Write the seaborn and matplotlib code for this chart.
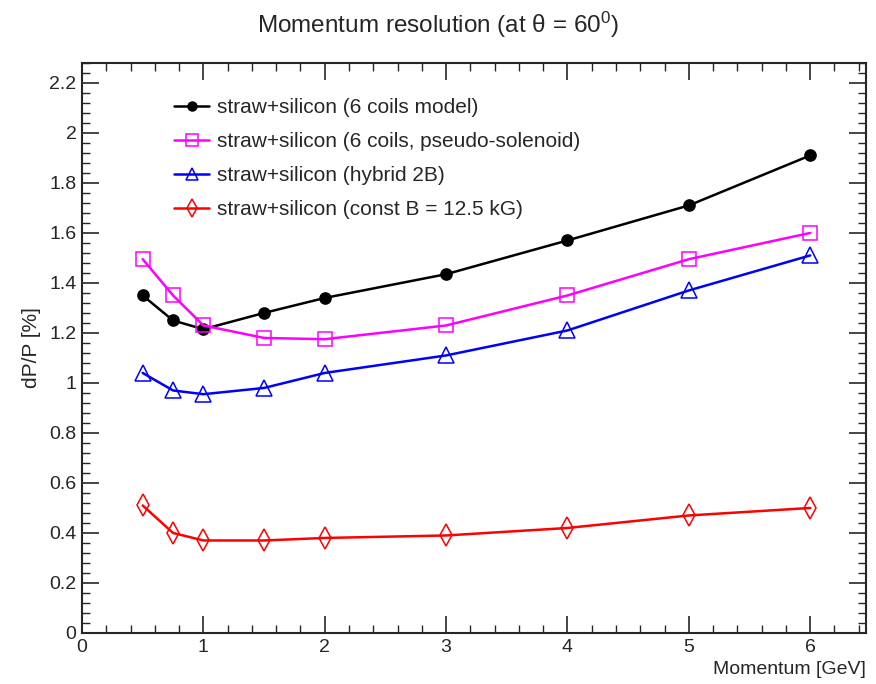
import numpy as np
import pandas as pd
import matplotlib
matplotlib.use("Agg")
import matplotlib.pyplot as plt
import seaborn as sns
from matplotlib.ticker import MultipleLocator

# datos
momentum = [0.5, 0.75, 1.0, 1.5, 2.0, 3.0, 4.0, 5.0, 6.0]
res_6coils = [1.35, 1.25, 1.215, 1.28, 1.34, 1.435, 1.57, 1.71, 1.91]
res_pseudo = [1.495, 1.35, 1.23, 1.18, 1.175, 1.23, 1.35, 1.495, 1.60]
res_hybrid = [1.04, 0.97, 0.955, 0.98, 1.04, 1.11, 1.21, 1.37, 1.51]
res_constB = [0.51, 0.40, 0.37, 0.37, 0.38, 0.39, 0.42, 0.47, 0.50]

labels = ["straw+silicon (6 coils model)",
          "straw+silicon (6 coils, pseudo-solenoid)",
          "straw+silicon (hybrid 2B)",
          "straw+silicon (const B = 12.5 kG)"]

sns.set_style("ticks")
plt.rcParams['font.family'] = ['Liberation Sans', 'DejaVu Sans']
plt.rcParams['mathtext.fontset'] = 'custom'
plt.rcParams['mathtext.rm'] = 'Liberation Sans'
plt.rcParams['mathtext.it'] = 'Liberation Sans'

fig = plt.figure(figsize=(8.76, 6.84), dpi=100)
ax = fig.add_axes([0.0936, 0.0746, 0.895, 0.8334])

series = [res_6coils, res_pseudo, res_hybrid, res_constB]
colors = ["black", "#ff00ff", "#0000ff", "#ff0000"]
markers = ["o", "s", "^", "d"]
sizes = [8, 10, 11, 11]

for vals, lab, col, mk, ms in zip(series, labels, colors, markers, sizes):
    df = pd.DataFrame({"p": momentum, "res": vals})
    face = col if mk == "o" else "none"
    sns.lineplot(data=df, x="p", y="res", ax=ax, color=col, linewidth=1.8,
                 marker=mk, markersize=ms, markerfacecolor=face,
                 markeredgecolor=col, markeredgewidth=1.1, label=lab)

ax.set_xlim(0, 6.46)
ax.set_ylim(0, 2.28)
ax.xaxis.set_major_locator(MultipleLocator(1))
ax.xaxis.set_minor_locator(MultipleLocator(0.2))
ax.yaxis.set_minor_locator(MultipleLocator(0.04))
ax.set_yticks(np.arange(0, 2.21, 0.2))
ax.set_yticklabels(["0", "0.2", "0.4", "0.6", "0.8", "1", "1.2", "1.4", "1.6", "1.8", "2", "2.2"])
ax.tick_params(which="both", direction="in", top=True, right=True, labelsize=14, pad=4)
ax.tick_params(which="major", length=12, width=1.2)
ax.tick_params(which="minor", length=6, width=1)
for s in ax.spines.values():
    s.set_linewidth(1.5)

ax.set_xlabel("Momentum [GeV]", fontsize=14, loc="right", labelpad=4)
ax.set_ylabel("dP/P [%]", fontsize=15, labelpad=6)
fig.suptitle(r"Momentum resolution (at $\theta$ = 60$^0$)", fontsize=17.5, y=0.985)

leg = ax.legend(loc="upper left", bbox_to_anchor=(0.112, 0.945), frameon=False,
                fontsize=15, handlelength=1.7, handletextpad=0.35, labelspacing=0.72,
                markerscale=0.8, borderaxespad=0, borderpad=0.2)

plt.savefig("out.png", dpi=100)
